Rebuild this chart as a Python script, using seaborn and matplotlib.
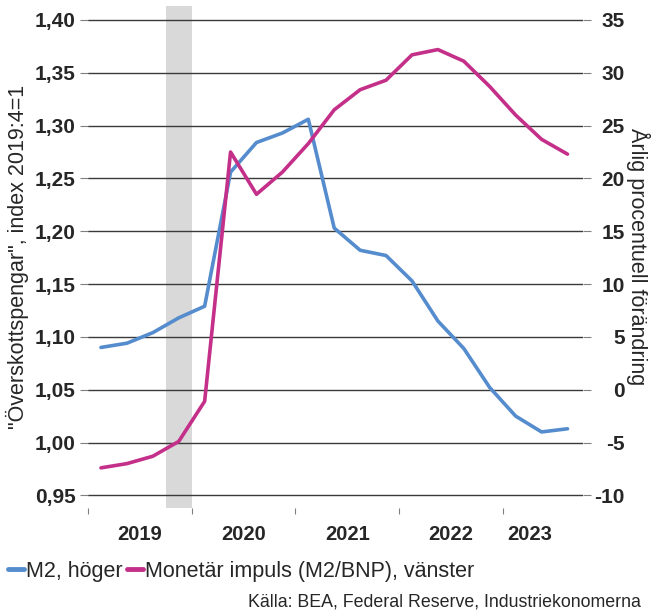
import numpy as np
import pandas as pd
import matplotlib
matplotlib.use('Agg')
import matplotlib.pyplot as plt
import seaborn as sns

# quarterly data 2019Q1 - 2023Q3
quarters = ['2019Q1', '2019Q2', '2019Q3', '2019Q4',
            '2020Q1', '2020Q2', '2020Q3', '2020Q4',
            '2021Q1', '2021Q2', '2021Q3', '2021Q4',
            '2022Q1', '2022Q2', '2022Q3', '2022Q4',
            '2023Q1', '2023Q2', '2023Q3']
m2_growth = [4.0, 4.4, 5.4, 6.8, 7.9, 20.6, 23.4, 24.3, 25.6,
             15.3, 13.2, 12.7, 10.3, 6.5, 3.9, 0.2, -2.5, -4.0, -3.7]
impuls = [0.976, 0.980, 0.987, 1.001, 1.039, 1.275, 1.235, 1.256, 1.283,
          1.315, 1.334, 1.343, 1.367, 1.372, 1.361, 1.337, 1.310, 1.287, 1.273]
years = ['2019', '2020', '2021', '2022', '2023']
year_label_pos = [1.5, 5.5, 9.5, 13.5, 16.55]
year_ticks = [-0.5, 3.5, 7.5, 11.5, 15.5]
left_ticks = [0.95, 1.00, 1.05, 1.10, 1.15, 1.20, 1.25, 1.30, 1.35, 1.40]
right_ticks = [-10, -5, 0, 5, 10, 15, 20, 25, 30, 35]
recession = '2019Q4'

blue = '#558CCD'
magenta = '#C43089'

df = pd.DataFrame({'q': np.arange(len(quarters)), 'M2': m2_growth, 'impuls': impuls})

sns.set_style('white')
plt.rcParams['font.family'] = ['Liberation Sans', 'DejaVu Sans']

fig = plt.figure(figsize=(6.51, 6.13), dpi=100)
ax = fig.add_axes([0.1352, 0.1713, 0.7604, 0.819])
ax2 = ax.twinx()
# left axis (magenta) drawn on top, band + grid on the right axis underneath
ax.set_zorder(ax2.get_zorder() + 1)
ax.patch.set_visible(False)

ri = quarters.index(recession)
ax2.axvspan(ri - 0.5, ri + 0.5, color='#D9D9D9', lw=0, zorder=0)
for t in right_ticks:
    ax2.axhline(t, color='#3a3a3a', lw=1.0, zorder=1)

sns.lineplot(data=df, x='q', y='M2', ax=ax2, color=blue, lw=2.6, zorder=3)
sns.lineplot(data=df, x='q', y='impuls', ax=ax, color=magenta, lw=2.6, zorder=3)

ax.set_xlim(-0.5, 18.6)
ax.set_ylim(0.938, 1.4133)
ax2.set_ylim(-11.2, 36.33)

for a in (ax, ax2):
    for s in a.spines.values():
        s.set_visible(False)

ax.set_yticks(left_ticks)
ax.set_yticklabels([f'{t:.2f}'.replace('.', ',') for t in left_ticks],
                   fontsize=15, fontweight='bold')
ax2.set_yticks(right_ticks)
ax2.set_yticklabels([str(t) for t in right_ticks], fontsize=15, fontweight='bold',
                    ha='right')
ax.tick_params(axis='y', length=6, color='#808080', pad=3, left=True)
ax2.tick_params(axis='y', length=6, color='#808080', pad=24, right=True)

ax.set_xticks(year_ticks)
ax.set_xticklabels([])
ax.set_xticks(year_label_pos, minor=True)
ax.set_xticklabels(years, minor=True, fontsize=14.5, fontweight='bold')
ax.tick_params(axis='x', which='major', length=4, color='#808080', bottom=True)
ax.tick_params(axis='x', which='minor', length=0, pad=12)
ax.set_xlabel('')

ax.set_ylabel('"Överskottspengar", index 2019:4=1', fontsize=15.5, labelpad=4)
ax2.set_ylabel('Årlig procentuell förändring', fontsize=15.5, rotation=270, labelpad=18)

handles = [plt.Line2D([], [], color=blue, lw=3.5),
           plt.Line2D([], [], color=magenta, lw=3.5)]
fig.legend(handles, ['M2, höger', 'Monetär impuls (M2/BNP), vänster'],
           loc='center left', bbox_to_anchor=(0.012, 1 - 571 / 613), ncol=2,
           frameon=False, fontsize=15.5, handlelength=0.75, handletextpad=0.1,
           columnspacing=0.2, borderaxespad=0, borderpad=0)

fig.text(0.985, 1 - 602 / 613, 'Källa: BEA, Federal Reserve, Industriekonomerna',
         ha='right', va='center', fontsize=12.8)

fig.savefig('out.png', dpi=100)
